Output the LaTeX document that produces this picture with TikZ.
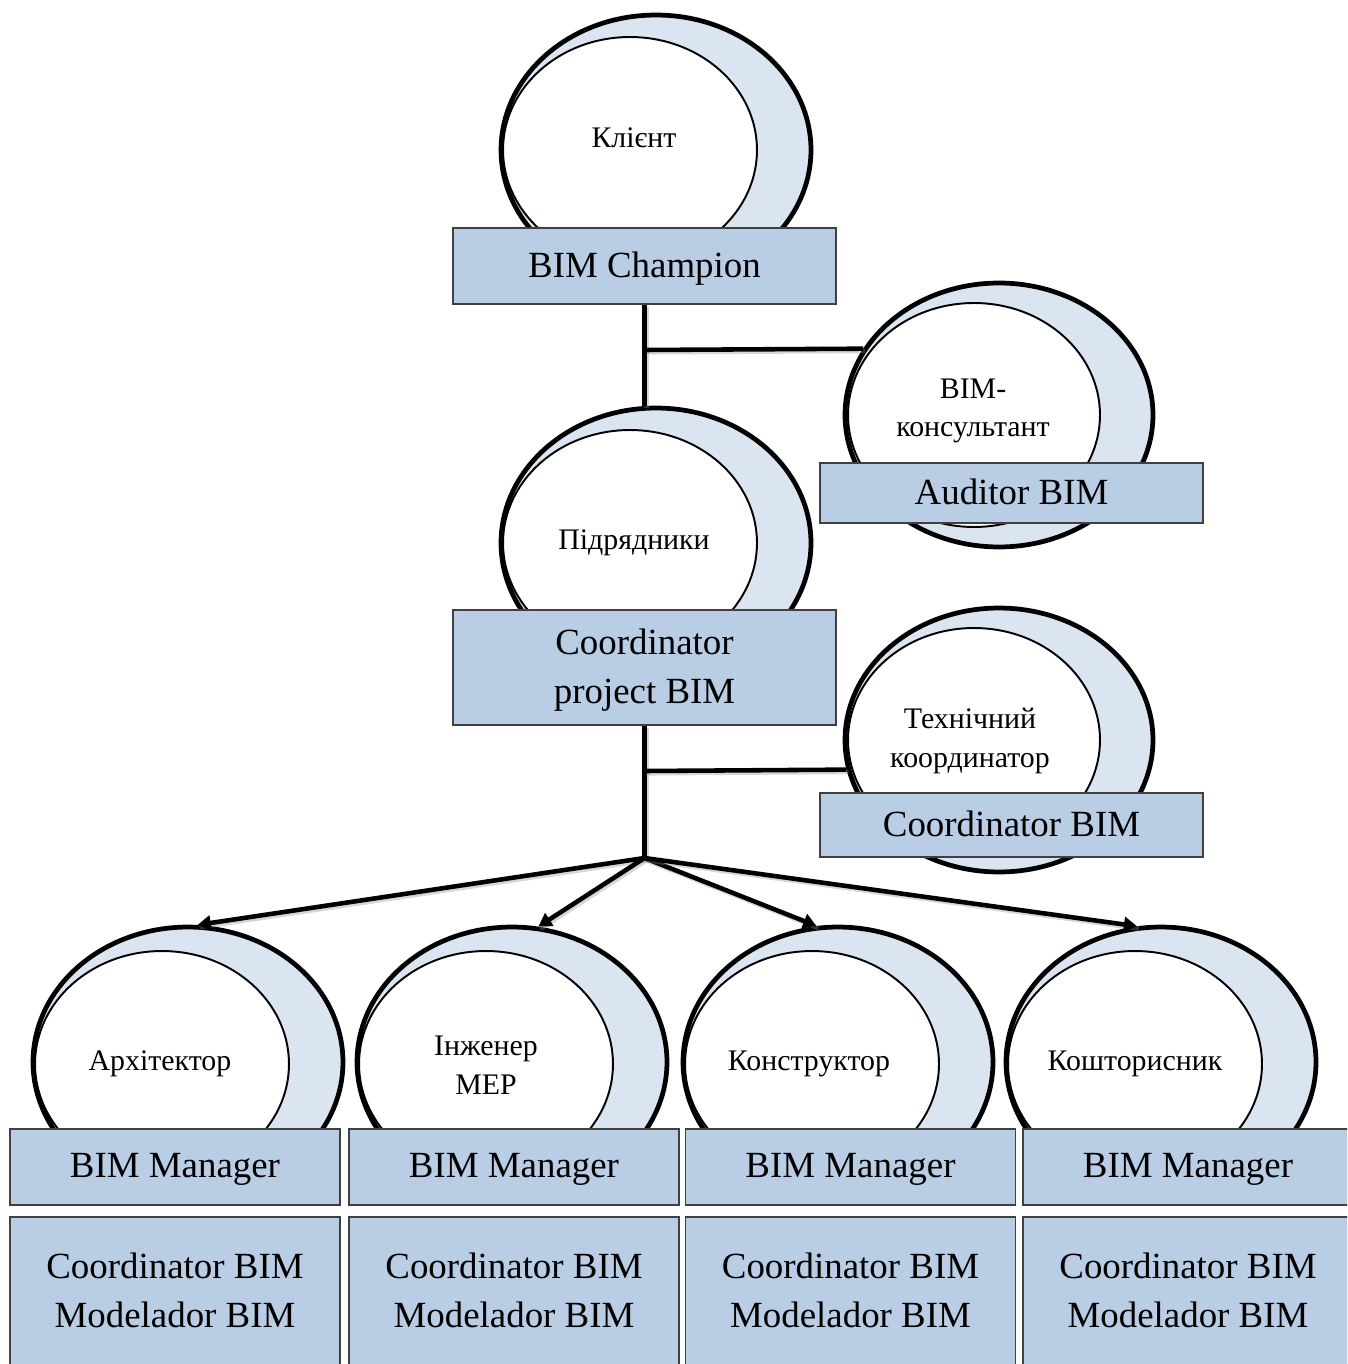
\documentclass[tikz,border=0pt]{standalone}
\usepackage{fontspec}
\setmainfont{Liberation Serif}
\usetikzlibrary{shapes.geometric,arrows.meta}
\definecolor{crescent}{HTML}{DBE5F1}
\definecolor{boxfill}{HTML}{B9CDE5}
\definecolor{boxline}{HTML}{404040}
\begin{document}
\begin{tikzpicture}[x=0.02cm,y=-0.02cm,
  ring/.style={ellipse, draw=black, line width=2.7pt, fill=crescent, inner sep=0pt,
               minimum width=6.2cm, minimum height=5.4cm},
  sidering/.style={ring, minimum width=6.16cm, minimum height=5.28cm},
  core/.style={ellipse, draw=black, line width=1.1pt, fill=white, inner sep=0pt,
               minimum width=5.08cm, minimum height=4.52cm},
  sidecore/.style={core, minimum width=5.04cm, minimum height=4.48cm},
  lbl/.style={align=center, inner sep=0pt, font=\fontsize{17}{22}\selectfont},
  rolebox/.style={rectangle, draw=boxline, line width=0.7pt, fill=boxfill, inner sep=0pt,
                  align=center, font=\fontsize{21}{27.8}\selectfont, minimum width=7.66cm,
                  text depth=0.4ex},
  rowbox/.style={rolebox, minimum width=6.6cm},
  link/.style={line width=2.6pt,
               preaction={draw=black!45, opacity=0.35, -, line width=2.6pt,
                          transform canvas={shift={(1.1pt,-1.3pt)}}}},
  arrowlink/.style={link, -{Triangle[length=7.5pt,width=8.5pt]}}
]
\useasboundingbox (0,0) rectangle (1347,1364);
\clip (0,0) rectangle (1347,1364);

% --- client ---
\node[ring] (client-out) at (656,150) {};
\node[core] (client-in) at (630,150) {};
\node[lbl] (client-lbl) at (634,138) {Клієнт};
\node[rolebox, minimum height=1.52cm] (champ) at (644.5,266) {BIM Champion};

% --- consultant ---
\node[sidering] (cons-out) at (999,415) {};
\node[sidecore] (cons-in) at (974,415) {};
\node[lbl] (cons-lbl) at (973,411) {BIM-\\консультант};
\node[rolebox, minimum height=1.2cm] (audit) at (1011.5,493) {Auditor BIM};

% --- contractors ---
\node[ring] (contr-out) at (656,543) {};
\node[core] (contr-in) at (630,543) {};
\node[lbl] (contr-lbl) at (634,543) {Підрядники};
\node[rolebox, minimum height=2.3cm] (proj) at (644.5,667.5) {Coordinator\\project BIM};

% --- technical coordinator ---
\node[sidering] (tech-out) at (999,740) {};
\node[sidecore] (tech-in) at (974,740) {};
\node[lbl] (tech-lbl) at (970,741) {Технічний\\координатор};
\node[rolebox, minimum height=1.28cm] (coord) at (1011.5,825) {Coordinator BIM};

% --- disciplines ---
\node[ring] (arch-out) at (188,1062) {};
\node[core] (arch-in) at (162,1064) {};
\node[lbl] (arch-lbl) at (160,1064) {Архітектор};
\node[rowbox, minimum height=1.52cm] (arch-mgr) at (175,1167) {BIM Manager};
\node[rowbox, minimum height=3cm] (arch-team) at (175,1292) {Coordinator BIM\\Modelador BIM};

\node[ring] (mep-out) at (512,1062) {};
\node[core] (mep-in) at (486,1064) {};
\node[lbl] (mep-lbl) at (486,1065) {Інженер\\MEP};
\node[rowbox, minimum height=1.52cm] (mep-mgr) at (514,1167) {BIM Manager};
\node[rowbox, minimum height=3cm] (mep-team) at (514,1292) {Coordinator BIM\\Modelador BIM};

\node[ring] (str-out) at (838,1062) {};
\node[core] (str-in) at (812,1064) {};
\node[lbl] (str-lbl) at (809,1064) {Конструктор};
\node[rowbox, minimum height=1.52cm] (str-mgr) at (850.5,1167) {BIM Manager};
\node[rowbox, minimum height=3cm] (str-team) at (850.5,1292) {Coordinator BIM\\Modelador BIM};

\node[ring] (cost-out) at (1161,1062) {};
\node[core] (cost-in) at (1135,1064) {};
\node[lbl] (cost-lbl) at (1135,1064) {Кошторисник};
\node[rowbox, minimum height=1.52cm] (cost-mgr) at (1188,1167) {BIM Manager};
\node[rowbox, minimum height=3cm] (cost-team) at (1188,1292) {Coordinator BIM\\Modelador BIM};

% --- connectors ---
\coordinate (j1) at (644.5,350);
\coordinate (j2) at (644.5,771);
\coordinate (hub) at (644.5,858);

\draw[link] (champ.south) -- (champ.south |- contr-out.north);
\draw[link] (j1) -- (cons-out.154);
\draw[link] (proj.south) -- (hub);
\draw[link] (j2) -- (tech-out.191.7);

\draw[arrowlink] (hub) -- (arch-out.86);
\draw[arrowlink] (hub) -- (mep-out.79.4);
\draw[arrowlink] (hub) -- (str-out.99);
\draw[arrowlink] (hub) -- (cost-out.100);
\end{tikzpicture}
\end{document}
